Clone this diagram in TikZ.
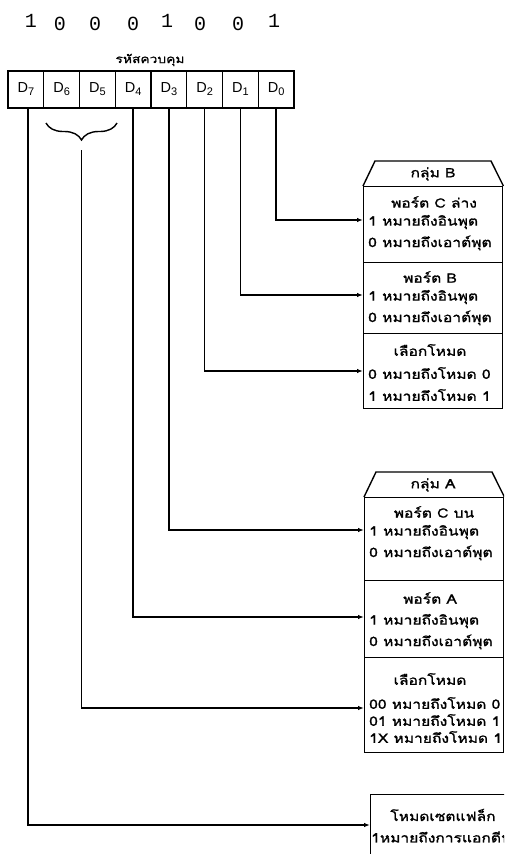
\documentclass[tikz,border=0pt]{standalone}
\usepackage{fontspec}
\setmainfont{Liberation Sans}
\newfontfamily\thai[Script=Thai,FakeStretch=1.2,FakeBold=1.2]{Loma}
\newfontfamily\digits{Liberation Mono}
\usetikzlibrary{decorations.pathreplacing,arrows.meta}
\newcommand{\dlab}[1]{D\raisebox{-3pt}{\fontsize{11}{11}\selectfont #1}}
\begin{document}
\begin{tikzpicture}[x=1pt,y=-1pt,
  ln/.style={line width=1.4pt},
  cell/.style={draw,line width=1.4pt,minimum width=35.75pt,minimum height=37pt,inner sep=0pt,font=\fontsize{14.5}{14.5}\selectfont},
  sect/.style={draw,line width=1.4pt,minimum width=139pt,inner sep=0pt,anchor=north west},
  ttl/.style={font=\thai\fontsize{13}{13}\selectfont,inner sep=0pt},
  txt/.style={font=\thai\fontsize{13}{13}\selectfont,inner sep=0pt,anchor=west},
  conn/.style={line width=1.3pt,-{Latex[length=6pt,width=4.5pt]}},
  bit/.style={font=\digits\fontsize{20}{20}\selectfont,inner sep=0pt,anchor=base}]
\useasboundingbox (0,0) rectangle (504,854);
\clip (0,0) rectangle (504,854);

% bits
\node[bit] (b7) at (31,27) {1};
\node[bit] (b6) at (60,30) {0};
\node[bit] (b5) at (95,30) {0};
\node[bit] (b4) at (133,30) {0};
\node[bit] (b3) at (167,27) {1};
\node[bit] (b2) at (200,30) {0};
\node[bit] (b1) at (238,30) {0};
\node[bit] (b0) at (274,27) {1};

\node[font=\thai\fontsize{11.5}{11.5}\selectfont,inner sep=0pt] (title) at (150,60) {รหัสควบคุม};

% register
\foreach \i/\n in {0/7,1/6,2/5,3/4,4/3,5/2,6/1,7/0}{
  \node[cell] (c\n) at ({8+35.75*\i+17.875},89.5) {\dlab{\n}};
}

% group B
\node[sect,minimum height=76pt] (B1) at (363,186) {};
\node[sect,minimum height=71pt] (B2) at (363,262) {};
\node[sect,minimum height=75pt] (B3) at (363,333) {};
\draw[ln] (B1.north west) -- (375,161) -- (491,161) -- (B1.north east);
\node[ttl] (gB) at (433,174) {กลุ่ม B};
\node[ttl] (B1t) at (434,202) {พอร์ต C ล่าง};
\node[txt] (B1a) at (368,222) {1 หมายถึงอินพุต};
\node[txt] (B1b) at (368,243) {0 หมายถึงเอาต์พุต};
\node[ttl] (B2t) at (430,277) {พอร์ต B};
\node[txt] (B2a) at (368,297) {1 หมายถึงอินพุต};
\node[txt] (B2b) at (368,318) {0 หมายถึงเอาต์พุต};
\node[ttl] (B3t) at (430,350) {เลือกโหมด};
\node[txt] (B3a) at (368,373) {0 หมายถึงโหมด 0};
\node[txt] (B3b) at (368,395) {1 หมายถึงโหมด 1};

% group A
\node[sect,minimum height=83pt] (A1) at (364,497) {};
\node[sect,minimum height=77pt] (A2) at (364,580) {};
\node[sect,minimum height=95pt] (A3) at (364,657) {};
\draw[ln] (A1.north west) -- (376,472) -- (492,472) -- (A1.north east);
\node[ttl] (gA) at (433,485) {กลุ่ม A};
\node[ttl] (A1t) at (434,512) {พอร์ต C บน};
\node[txt] (A1a) at (369,532) {1 หมายถึงอินพุต};
\node[txt] (A1b) at (369,553) {0 หมายถึงเอาต์พุต};
\node[ttl] (A2t) at (430,598) {พอร์ต A};
\node[txt] (A2a) at (369,621) {1 หมายถึงอินพุต};
\node[txt] (A2b) at (369,642) {0 หมายถึงเอาต์พุต};
\node[ttl] (A3t) at (430,679) {เลือกโหมด};
\node[txt] (A3a) at (369,703) {00 หมายถึงโหมด 0};
\node[txt] (A3b) at (369,720) {01 หมายถึงโหมด 1};
\node[txt] (A3c) at (369,737) {1X หมายถึงโหมด 1};

% final box
\node[sect,minimum width=200pt,minimum height=100pt] (F) at (370,794) {};
\node[ttl] (Ft) at (443,815) {โหมดเซตแฟล็ก};
\node[txt] (Fa) at (371,837) {1หมายถึงการแอกตีฟ};

% connector ends
\coordinate (a0) at (363,220);
\coordinate (a1) at (363,295);
\coordinate (a2) at (363,371);
\coordinate (a3) at (364,530);
\coordinate (a4) at (364,617);
\coordinate (a56) at (364,708);
\coordinate (a7) at (370,825);
\coordinate (bt) at (81.5,150);

\draw[conn] (c0.south) |- (a0);
\draw[conn] (c1.south) |- (a1);
\draw[conn] (c2.south) |- (a2);
\draw[conn] (c3.south) |- (a3);
\draw[conn] (c4.south) |- (a4);
\draw[conn] (bt) |- (a56);
\draw[conn] ([xshift=2pt]c7.south) |- (a7);

\draw[ln,decorate,decoration={brace,mirror,amplitude=17pt}] (46,123) -- (117,123);
\end{tikzpicture}
\end{document}
